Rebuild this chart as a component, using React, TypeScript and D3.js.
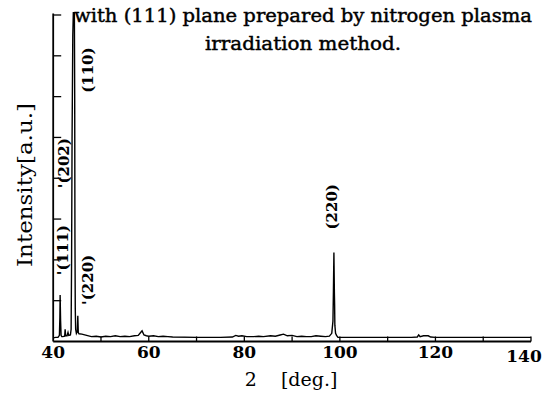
import React from "react";
import * as d3 from "d3";

const twoTheta: number[] = [
  40.0, 40.5, 41.0, 41.3, 41.4, 41.45, 41.55, 41.65, 41.8, 42.0, 42.4, 42.5, 42.6, 42.9, 43.1, 43.25, 43.6,
  43.75, 43.85, 43.95, 44.1, 44.4, 44.5, 44.55, 44.62, 44.7, 44.85, 45.05, 45.15, 45.25, 45.4, 46.0,
  47.0, 48.0, 49.0, 50.0, 51.0, 52.0, 53.0, 54.0, 55.0, 56.0, 57.0, 57.8, 58.3, 58.6, 59.0, 59.5, 60.0,
  61.0, 62.0, 63.0, 64.0, 65.0, 70.0, 75.0, 77.5, 78.2, 78.8, 79.5, 80.5, 82.0, 83.0, 84.0, 85.5, 86.5,
  87.5, 88.2, 89.0, 90.0, 91.0, 92.0, 93.0, 94.0, 95.0, 96.0, 97.0, 97.8, 98.3, 98.55, 98.65, 98.75,
  98.85, 98.9, 98.95, 99.1, 99.3, 99.6, 100.0, 105.0, 110.0, 115.0, 116.2, 116.5, 116.8, 117.5, 118.5,
  119.0, 120.0, 125.0, 130.0, 135.0, 140.0,
];
const intensity: number[] = [
  0.09, 0.1, 0.1, 0.15, 0.6, 1.14, 0.5, 0.15, 0.12, 0.12, 0.13, 0.3, 0.14, 0.14, 0.22, 0.15, 0.16,
  0.3, 2.0, 5.0, 7.5, 9.0, 6.0, 2.5, 0.8, 0.3, 0.2, 0.25, 0.63, 0.22, 0.19, 0.18,
  0.15, 0.12, 0.13, 0.11, 0.13, 0.12, 0.14, 0.12, 0.13, 0.12, 0.14, 0.15, 0.22, 0.26, 0.16, 0.14, 0.13,
  0.14, 0.12, 0.13, 0.12, 0.11, 0.1, 0.1, 0.11, 0.15, 0.13, 0.14, 0.12, 0.12, 0.13, 0.12, 0.14, 0.13,
  0.16, 0.18, 0.14, 0.15, 0.12, 0.13, 0.12, 0.12, 0.14, 0.13, 0.12, 0.13, 0.2, 0.5, 1.25, 2.18,
  1.2, 0.9, 0.4, 0.2, 0.15, 0.1, 0.1, 0.1, 0.1, 0.1, 0.11, 0.16, 0.12, 0.14, 0.14,
  0.11, 0.1, 0.1, 0.1, 0.1, 0.1,
];

const xTickValues: number[] = [40, 60, 80, 100, 120, 140];
const xMinorTicks: number[] = [50, 60, 70, 80, 90, 100, 110, 120, 130, 140];
const yTickValues: number[] = [1, 2, 3, 4, 5, 6, 7, 8];

const titleLines: string[] = [
  "with (111) plane prepared by nitrogen plasma",
  "irradiation method.",
];
const titleWidths: number[] = [458, 196];
const xTitle = "2    [deg.]";
const yTitle = "Intensity[a.u.]";

const peakLabels: { text: string; at: number; level: number }[] = [
  { text: "(110)", at: 48.3, level: 6.65 },
  { text: "'(202)", at: 43.3, level: 4.37 },
  { text: "'(111)", at: 43.1, level: 2.24 },
  { text: "'(220)", at: 48.3, level: 1.51 },
  { text: "(220)", at: 99.3, level: 3.3 },
];

export default function App() {
  const W = 553;
  const H = 403;
  const x = d3.scaleLinear().domain([40, 140]).range([53.2, 531]);
  const y = d3.scaleLinear().domain([0, 8]).range([341.5, 15]);
  const pts: [number, number][] = twoTheta.map((t, i) => [t, intensity[i]]);
  const line = d3
    .line<[number, number]>()
    .x((d) => x(d[0]))
    .y((d) => y(d[1]));
  const serif = "'DejaVu Serif', serif";
  return (
    <svg width={W} height={H} style={{ position: "absolute", left: 0, top: 0, background: "#fff" }}>
      <defs>
        <clipPath id="plotclip">
          <rect x={x(40)} y={12} width={x(140) - x(40)} height={y(0) - 12} />
        </clipPath>
      </defs>
      <rect width={W} height={H} fill="#fff" />
      {/* axes */}
      <line x1={x(40)} x2={x(140)} y1={y(0)} y2={y(0)} stroke="#000" strokeWidth={1.8} />
      <line x1={x(40)} x2={x(40)} y1={y(0)} y2={y(8) - 1.5} stroke="#000" strokeWidth={1.8} />
      {xMinorTicks.map((t) => (
        <line key={"xt" + t} x1={x(t)} x2={x(t)} y1={y(0)} y2={y(0) - 5} stroke="#000" strokeWidth={1.3} />
      ))}
      {yTickValues.map((t) => (
        <line key={"yt" + t} x1={x(40)} x2={x(40) + 8} y1={y(t)} y2={y(t)} stroke="#000" strokeWidth={1.3} />
      ))}
      {/* data */}
      <path d={line(pts) || ""} fill="none" stroke="#000" strokeWidth={1.4} clipPath="url(#plotclip)" />
      {/* tick labels */}
      {xTickValues.map((t) => (
        <text
          key={"xl" + t}
          x={x(t) - (t === 140 ? 7 : 0)}
          y={t === 140 ? 362 : 358}
          textAnchor="middle"
          fontFamily={serif}
          fontWeight="bold"
          fontSize={17}
        >
          {t}
        </text>
      ))}
      {/* axis titles */}
      <text x={291} y={386} textAnchor="middle" fontFamily={serif} fontSize={19} style={{ whiteSpace: "pre" }}>
        {xTitle}
      </text>
      <text
        transform={`translate(32,185) rotate(-90)`}
        textAnchor="middle"
        fontFamily={serif}
        fontSize={20}
        textLength={164}
        lengthAdjust="spacingAndGlyphs"
      >
        {yTitle}
      </text>
      {/* title */}
      {titleLines.map((s, i) => (
        <text
          key={"tl" + i}
          x={303}
          y={22 + i * 28}
          textAnchor="middle"
          fontFamily={serif}
          fontSize={19}
          stroke="#000"
          strokeWidth={0.45}
          textLength={titleWidths[i]}
          lengthAdjust="spacingAndGlyphs"
        >
          {s}
        </text>
      ))}
      {/* peak labels */}
      {peakLabels.map((p, i) => (
        <text
          key={"pl" + i}
          transform={`translate(${x(p.at)},${y(p.level)}) rotate(-90)`}
          textAnchor="middle"
          fontFamily={serif}
          fontWeight="bold"
          fontSize={15}
        >
          {p.text}
        </text>
      ))}
    </svg>
  );
}
